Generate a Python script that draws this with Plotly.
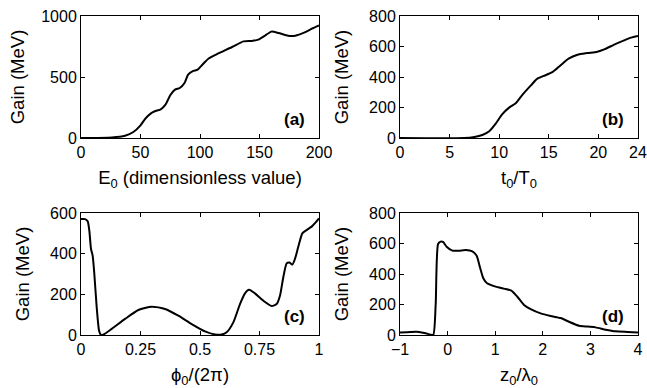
import plotly.graph_objects as go

# Panel (a): gain vs E0
e0 = [0, 26, 37, 44, 50, 54, 58.5, 62, 67, 71, 75, 79, 83, 87, 90, 94, 98, 102, 107, 115, 127, 136.5, 143.5, 149, 155, 160, 166, 174, 180, 188, 194, 200]
gain_a = [0, 5, 19, 49, 104, 158, 200, 219, 235, 273, 350, 396, 410, 451, 519, 549, 560, 601, 650, 691, 746, 792, 795, 806, 842, 872, 861, 839, 839, 866, 896, 923]

# Panel (b): gain vs t0/T0
t0 = [0, 6.45, 7.5, 8.3, 9.0, 9.65, 10.3, 11.0, 11.7, 12.3, 13.2, 13.85, 14.5, 15.4, 16.2, 17.0, 17.9, 18.9, 19.9, 20.6, 21.6, 22.6, 23.3, 24]
gain_b = [0, 0, 7, 20, 44, 94, 155, 199, 230, 280, 345, 389, 407, 433, 477, 520, 546, 557, 566, 581, 612, 640, 658, 669]

# Panel (c): gain vs phi0/(2pi)
phi0 = [0, 0.017, 0.028, 0.035, 0.042, 0.049, 0.056, 0.066, 0.076, 0.084, 0.094, 0.129, 0.185, 0.241, 0.297, 0.353, 0.409, 0.465, 0.521, 0.563, 0.591, 0.612, 0.64, 0.668, 0.689, 0.706, 0.731, 0.766, 0.801, 0.822, 0.836, 0.850, 0.864, 0.875, 0.888, 0.899, 0.913, 0.930, 0.948, 0.969, 0.986, 1.0]
gain_c = [570, 570, 559, 513, 423, 390, 300, 136, 21, 0, 2, 30, 79, 123, 139, 128, 95, 54, 18, 3, 2, 13, 62, 152, 205, 223, 205, 169, 143, 152, 193, 284, 352, 357, 346, 374, 434, 500, 516, 533, 554, 574]

# Panel (d): gain vs z0/lambda0
z0 = [-1, -0.776, -0.6, -0.46, -0.356, -0.3, -0.25, -0.2, -0.146, -0.097, -0.02, 0.1, 0.24, 0.38, 0.52, 0.61, 0.68, 0.75, 0.83, 1.01, 1.185, 1.34, 1.465, 1.605, 1.745, 1.955, 2.165, 2.375, 2.55, 2.76, 2.94, 3.11, 3.32, 3.53, 3.78, 4]
gain_d = [17, 20, 20, 11, 2, 2, 203, 597, 612, 610, 579, 553, 553, 557, 549, 520, 444, 372, 339, 317, 304, 291, 251, 197, 170, 142, 125, 111, 87, 61, 55, 50, 35, 24, 20, 17]

panel_labels = ["(a)", "(b)", "(c)", "(d)"]
x_titles = ["E<sub>0</sub> (dimensionless value)", "t<sub>0</sub>/T<sub>0</sub>",
            "\u03d5<sub>0</sub>/(2\u03c0)", "z<sub>0</sub>/\u03bb<sub>0</sub>"]
y_title = "Gain (MeV)"

W, H = 647, 388
FONT = "Liberation Sans, Arial, Helvetica, sans-serif"

def xdom(l, r):
    return [l / W, r / W]

def ydom(t, b):
    return [1 - b / H, 1 - t / H]

doms = [
    (xdom(81, 319), ydom(16, 138)),
    (xdom(400, 638), ydom(16, 138)),
    (xdom(81, 319), ydom(213, 335)),
    (xdom(400, 638), ydom(213, 335)),
]
xranges = [[0, 200], [0, 24], [0, 1], [-1, 4]]
yranges = [[0, 1000], [0, 800], [0, 600], [0, 800]]
xticks = [[0, 50, 100, 150, 200], [0, 5, 10, 15, 20, 24], [0, 0.25, 0.5, 0.75, 1], [-1, 0, 1, 2, 3, 4]]
xticktext = [None, None, ["0", "0.25", "0.5", "0.75", "1"], ["\u22121", "0", "1", "2", "3", "4"]]
yticks = [[0, 500, 1000], [0, 200, 400, 600, 800], [0, 200, 400, 600], [0, 200, 400, 600, 800]]
ystandoff = [11, 15, 15, 15]

data = [(e0, gain_a), (t0, gain_b), (phi0, gain_c), (z0, gain_d)]

fig = go.Figure()
layout = dict(
    width=W, height=H, margin=dict(l=0, r=0, t=0, b=0),
    paper_bgcolor="white", plot_bgcolor="white", showlegend=False,
    font=dict(family=FONT, size=16, color="black"),
)
annotations = []
for i, ((xs, ys), (xd, yd)) in enumerate(zip(data, doms)):
    n = "" if i == 0 else str(i + 1)
    xa, ya = "x" + n, "y" + n
    fig.add_trace(go.Scatter(x=xs, y=ys, mode="lines", xaxis=xa, yaxis=ya,
                             line=dict(color="black", width=2, shape="spline", smoothing=0.6),
                             cliponaxis=True))
    common = dict(showline=True, linecolor="black", linewidth=1, mirror="ticks",
                  ticks="inside", ticklen=4, tickcolor="black", showgrid=False,
                  zeroline=False, automargin=False,
                  tickfont=dict(family=FONT, size=16, color="black"))
    xaxis = dict(common, domain=xd, range=xranges[i], tickvals=xticks[i],
                 anchor=ya, title=dict(text=x_titles[i], font=dict(family=FONT, size=18.5), standoff=10))
    if xticktext[i] is not None:
        xaxis["ticktext"] = xticktext[i]
    yaxis = dict(common, domain=yd, range=yranges[i], tickvals=yticks[i],
                 anchor=xa, title=dict(text=y_title, font=dict(family=FONT, size=18.5), standoff=ystandoff[i]))
    layout["xaxis" + n] = xaxis
    layout["yaxis" + n] = yaxis
    annotations.append(dict(text="<b>" + panel_labels[i] + "</b>", xref=xa + " domain", yref=ya + " domain",
                            x=0.95, y=0.06, xanchor="right", yanchor="bottom", showarrow=False,
                            font=dict(family=FONT, size=17, color="black")))
layout["annotations"] = annotations
fig.update_layout(**layout)
fig.write_html("out.html", config={"displayModeBar": False},
               post_script="document.body.style.margin='0';document.body.style.overflow='hidden';")
